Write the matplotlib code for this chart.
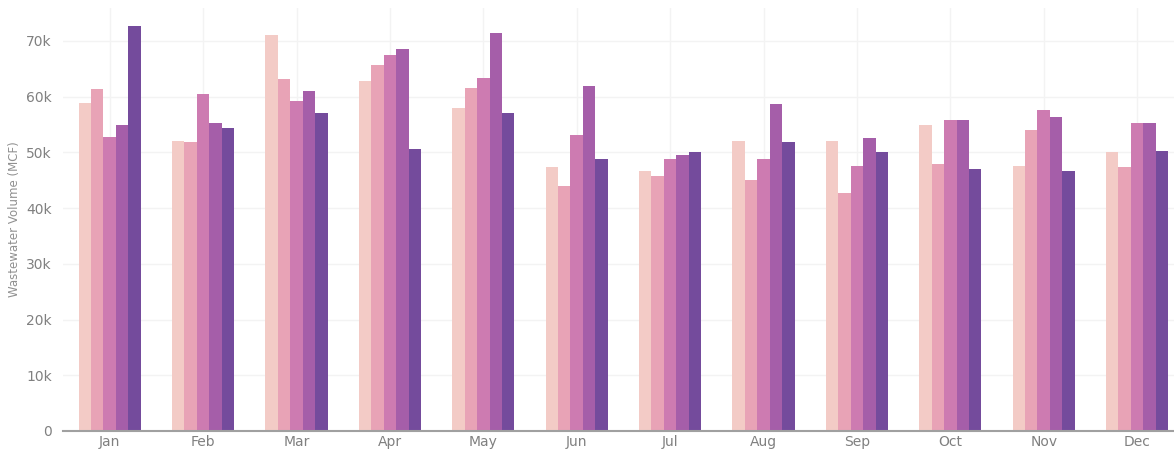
import numpy as np
from matplotlib import pyplot as plt

months = ["Jan", "Feb", "Mar", "Apr", "May", "Jun",
          "Jul", "Aug", "Sep", "Oct", "Nov", "Dec"]

# five yearly series, values in MCF
series_1 = [58800, 52100, 71000, 62800, 57900, 47300, 46700, 52100, 52100, 54900, 47600, 50000]
series_2 = [61300, 51800, 63100, 65600, 61600, 43900, 45800, 45100, 42700, 47900, 54000, 47300]
series_3 = [52800, 60400, 59200, 67400, 63400, 53100, 48800, 48800, 47600, 55800, 57600, 55200]
series_4 = [54900, 55200, 61000, 68600, 71400, 61900, 49500, 58600, 52500, 55800, 56400, 55200]
series_5 = [72600, 54300, 57000, 50600, 57000, 48800, 50000, 51800, 50000, 47000, 46700, 50300]

colors = ["#f3cbc6", "#e8a3b6", "#cd7bb1", "#a55ea9", "#744b9c"]

fig = plt.figure(figsize=(11.74, 4.53), dpi=100)
ax = fig.add_axes([63/1174, 22/453, 12*93.4/1174, (431-8)/453])

x = np.arange(len(months))
w = 0.133
all_series = [series_1, series_2, series_3, series_4, series_5]
for i, vals in enumerate(all_series):
    ax.bar(x + (i - 2) * w, vals, width=w, color=colors[i], zorder=3)

ax.set_xlim(-0.5, 11.5)
ax.set_ylim(0, 75900)
ax.set_yticks(range(0, 80000, 10000))
ax.set_yticklabels(["0"] + ["%dk" % (v // 1000) for v in range(10000, 80000, 10000)])
ax.set_xticks(x)
ax.set_xticklabels(months)

ax.grid(True, color="#f3f3f3", linewidth=1, zorder=0)
for s in ["top", "right", "left"]:
    ax.spines[s].set_visible(False)
ax.spines["bottom"].set_color("#a0a0a0")
ax.spines["bottom"].set_linewidth(1.5)
ax.spines["bottom"].set_zorder(4)
ax.tick_params(axis="both", length=0, colors="#808080", labelsize=10)
ax.tick_params(axis="y", pad=8)
ax.tick_params(axis="x", pad=3)
ax.set_ylabel("Wastewater Volume (MCF)", color="#909090", fontsize=8.5, labelpad=4)

fig.savefig("out.png", dpi=100)
